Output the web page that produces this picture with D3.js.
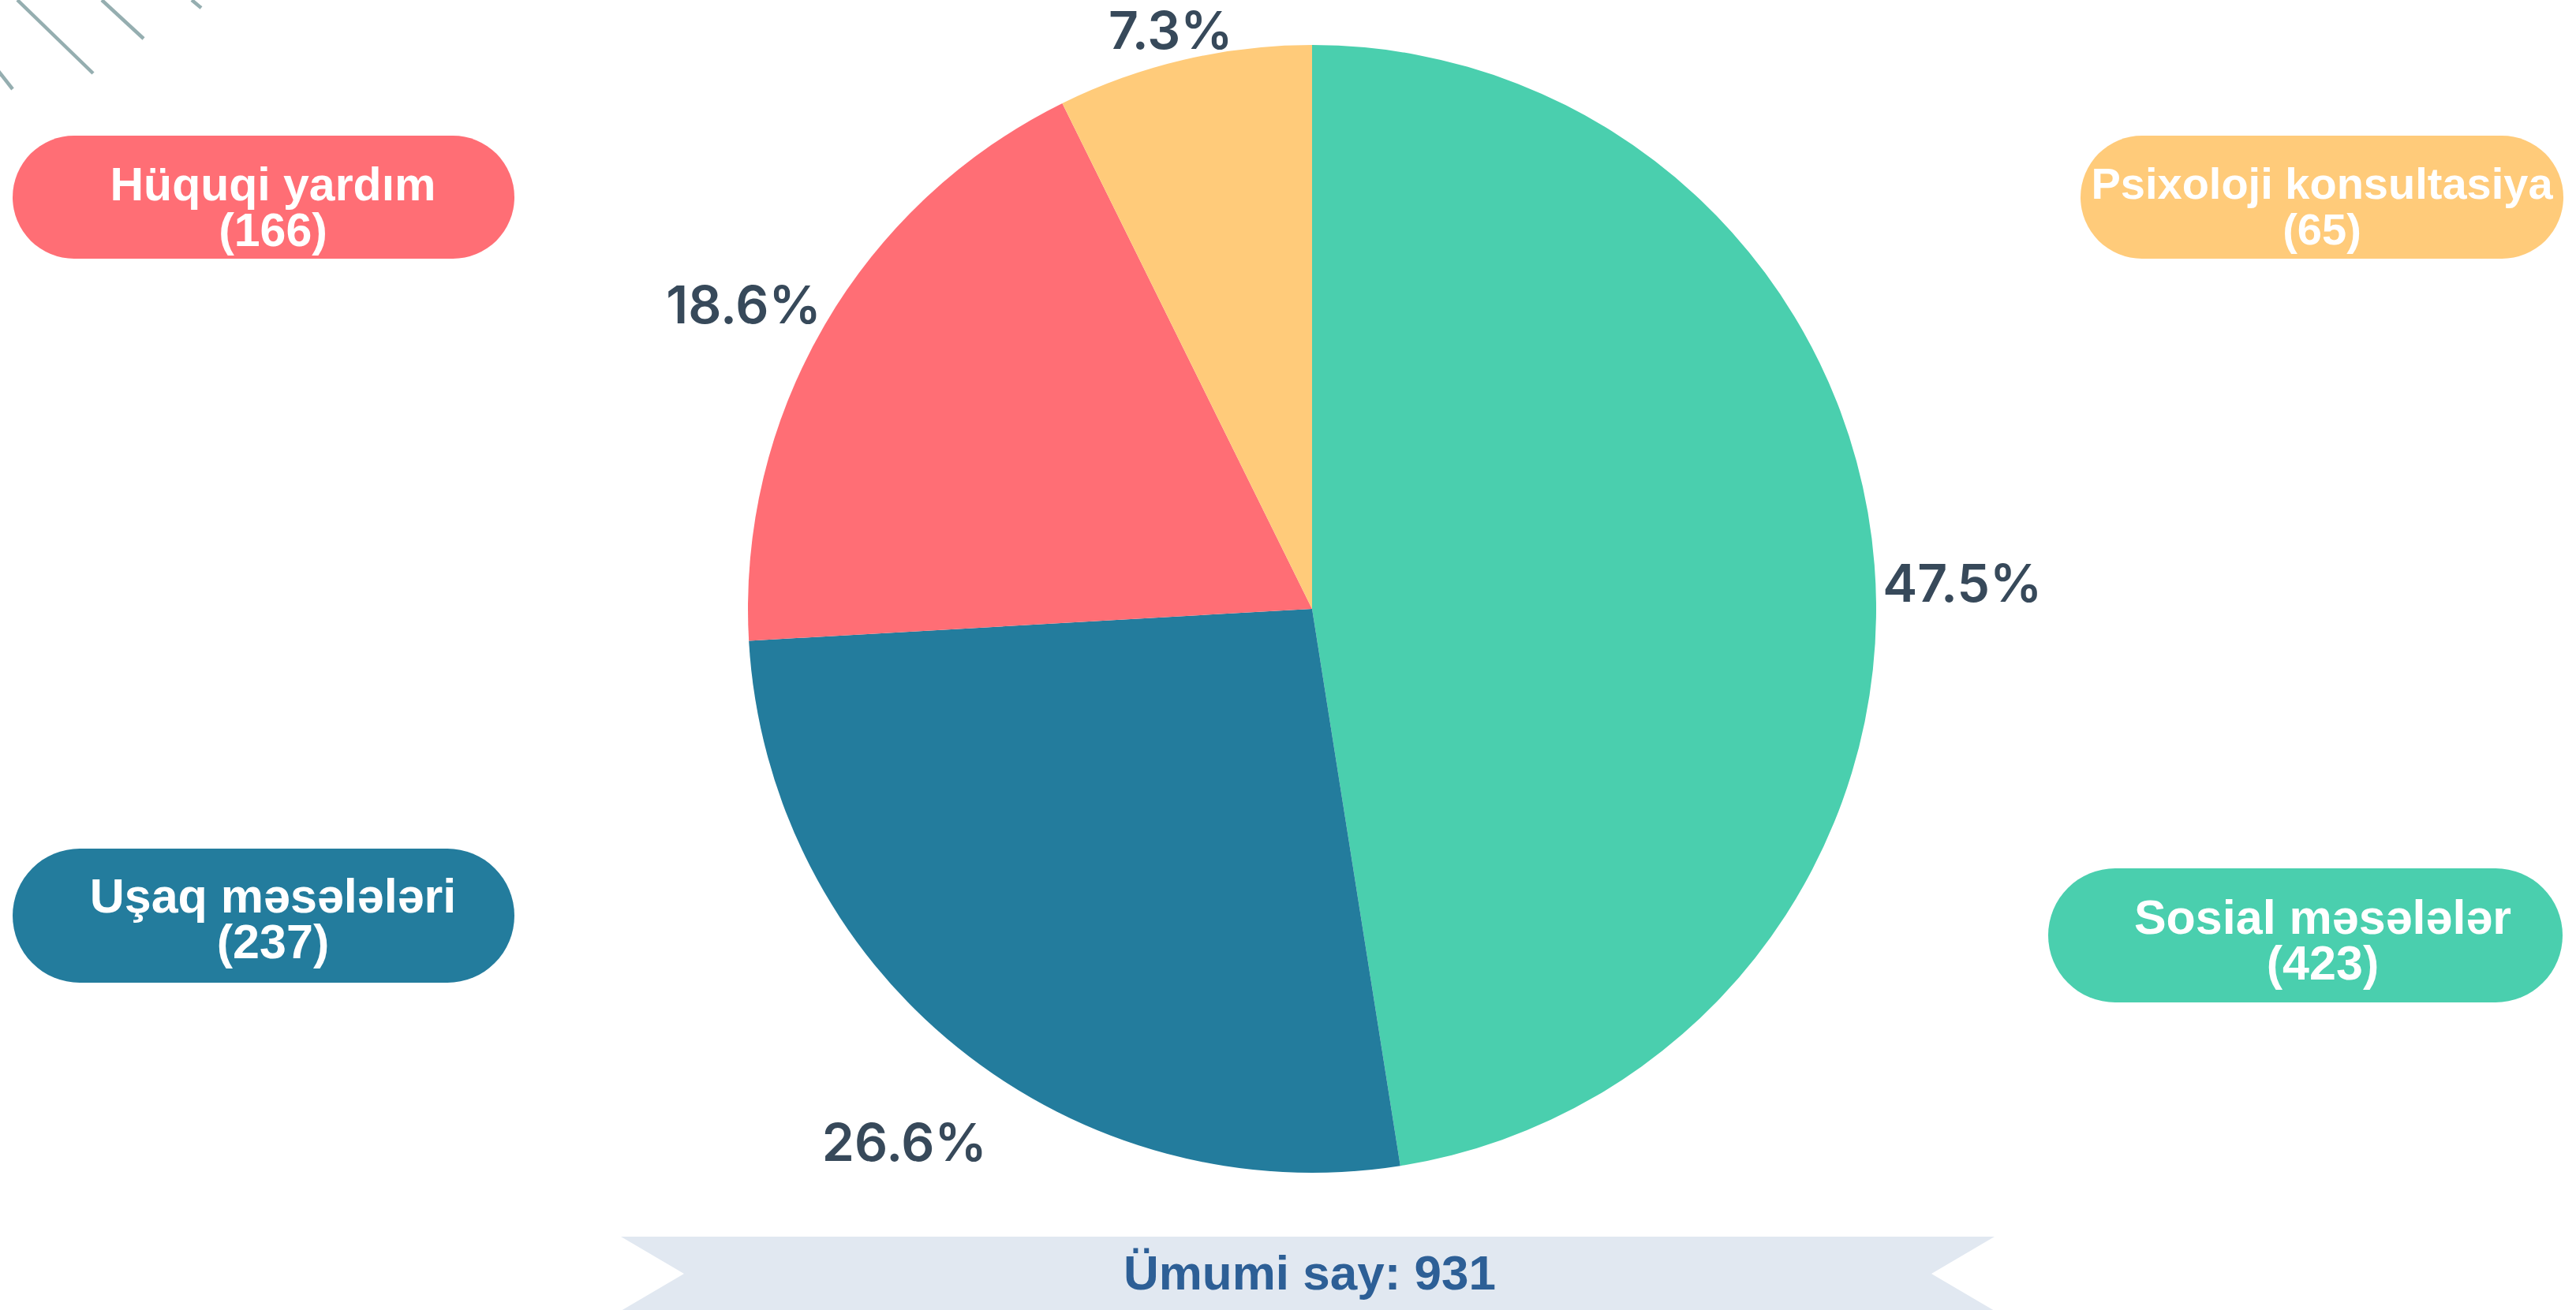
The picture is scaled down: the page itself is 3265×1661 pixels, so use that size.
<!DOCTYPE html>
<html>
<head>
<meta charset="utf-8">
<script src="https://cdn.jsdelivr.net/npm/d3@7"></script>
<style>
    html, body { margin: 0; padding: 0; background: #ffffff; }
    svg { display: block; }
</style>
</head>
<body>
<div id="chart"></div>
<script>
// data
const categories = ['Sosial məsələlər', 'Uşaq məsələləri', 'Hüquqi yardım', 'Psixoloji konsultasiya'];
const counts = [423, 237, 166, 65];
const percents = [47.5, 26.6, 18.6, 7.3];
const totalCount = 931;
const sliceColors = ['#4acfae', '#237c9d', '#ff6e75', '#ffcb7a'];

// layout for the pill legend (same order as categories)
const pillLayout = [
    {x: 2596, y: 1101, w: 652, h: 170, tx: 2944, base: 1184, size: 61},
    {x: 16, y: 1076, w: 636, h: 170, tx: 346, base: 1157, size: 61},
    {x: 16, y: 172, w: 636, h: 156, tx: 346, base: 254, size: 59},
    {x: 2637, y: 172, w: 612, h: 156, tx: 2943, base: 252, size: 56}
];

// percent label placement: distance from centre and small angle nudge (degrees)
const labelLayout = [
    {r: 825, nudge: 2.2},
    {r: 851, nudge: -1.5},
    {r: 817, nudge: -2.1},
    {r: 755, nudge: -0.6}
];

const width = 3265;
const height = 1661;
const cx = 1663;
const cy = 772;
const radius = 715;

const svg = d3.select('#chart').append('svg')
    .attr('width', width)
    .attr('height', height);

svg.append('rect')
    .attr('width', width)
    .attr('height', height)
    .attr('fill', '#ffffff');

// decorative stripes top-left
const stripes = [[22, 0, 118, 93], [129, 0, 182, 49], [243, 0, 255, 10], [-10, 80, 16, 113]];
svg.append('g').selectAll('line')
    .data(stripes)
    .join('line')
    .attr('x1', d => d[0]).attr('y1', d => d[1])
    .attr('x2', d => d[2]).attr('y2', d => d[3])
    .attr('stroke', '#95aeb0')
    .attr('stroke-width', 4.5);

// pie
const pie = d3.pie()
    .sort(null)
    .value(d => d.pct);

const pieData = pie(categories.map((c, i) => ({name: c, pct: percents[i], count: counts[i], color: sliceColors[i]})));

const arc = d3.arc()
    .innerRadius(0)
    .outerRadius(radius);

const chart = svg.append('g')
    .attr('transform', `translate(${cx},${cy})`);

chart.selectAll('path')
    .data(pieData)
    .join('path')
    .attr('d', arc)
    .attr('fill', d => d.data.color);

// percentage labels outside the rim
const labelSize = 66;
chart.selectAll('text.pct')
    .data(pieData)
    .join('text')
    .attr('class', 'pct')
    .attr('font-family', 'Inter, "Noto Sans", sans-serif')
    .attr('font-weight', 600)
    .attr('font-size', labelSize)
    .attr('fill', '#37495a')
    .attr('text-anchor', 'middle')
    .text(d => d.data.pct.toFixed(1) + '%')
    .each(function(d, i) {
        const lay = labelLayout[i];
        const a = (d.startAngle + d.endAngle) / 2 + lay.nudge * Math.PI / 180;
        const x = Math.sin(a) * lay.r;
        const y = -Math.cos(a) * lay.r + labelSize * 0.36;
        d3.select(this).attr('x', x).attr('y', y);
    });

// pill legend
const pills = svg.append('g').selectAll('g')
    .data(pieData)
    .join('g');

pills.append('rect')
    .attr('x', (d, i) => pillLayout[i].x)
    .attr('y', (d, i) => pillLayout[i].y)
    .attr('width', (d, i) => pillLayout[i].w)
    .attr('height', (d, i) => pillLayout[i].h)
    .attr('rx', (d, i) => pillLayout[i].h / 2)
    .attr('ry', (d, i) => pillLayout[i].h / 2)
    .attr('fill', d => d.data.color);

const pillText = pills.append('text')
    .attr('font-family', '"Liberation Sans", Arial, sans-serif')
    .attr('font-weight', 'bold')
    .attr('font-size', (d, i) => pillLayout[i].size)
    .attr('fill', '#ffffff')
    .attr('text-anchor', 'middle');

pillText.append('tspan')
    .attr('x', (d, i) => pillLayout[i].tx)
    .attr('y', (d, i) => pillLayout[i].base)
    .text(d => d.data.name);

pillText.append('tspan')
    .attr('x', (d, i) => pillLayout[i].tx)
    .attr('y', (d, i) => pillLayout[i].base + 58)
    .text(d => '(' + d.data.count + ')');

// bottom ribbon with the total
const ribbon = svg.append('g');
const rTop = 1568, rBottom = 1662, rMid = (rTop + rBottom) / 2;
const rLeft = 787, rRight = 2528, notch = 80;

ribbon.append('path')
    .attr('d', `M${rLeft},${rTop} L${rRight},${rTop} L${rRight - notch},${rMid} L${rRight},${rBottom} ` +
        `L${rLeft},${rBottom} L${rLeft + notch},${rMid} Z`)
    .attr('fill', '#e1e8f1');

ribbon.append('text')
    .attr('x', 1660)
    .attr('y', 1635)
    .attr('text-anchor', 'middle')
    .attr('font-family', '"Liberation Sans", Arial, sans-serif')
    .attr('font-weight', 'bold')
    .attr('font-size', 62)
    .attr('fill', '#2d5f96')
    .text('Ümumi say: ' + totalCount);
</script>
</body>
</html>
